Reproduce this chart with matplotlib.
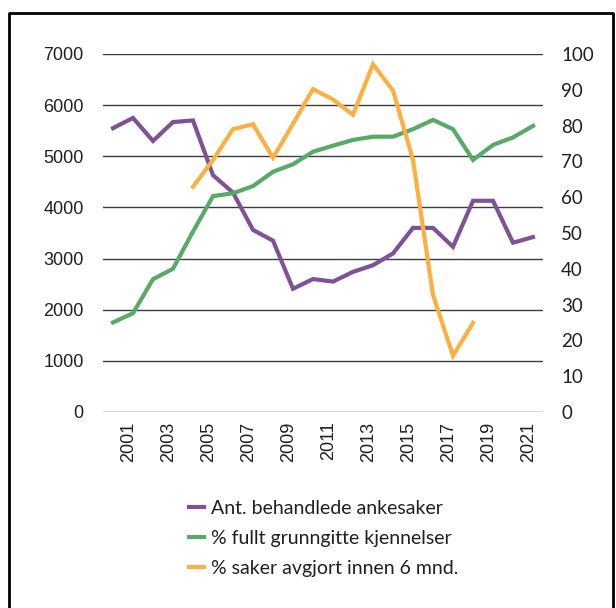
import matplotlib
matplotlib.use("Agg")
import matplotlib.pyplot as plt
import matplotlib.transforms as mtransforms
from matplotlib.lines import Line2D

# data
years = list(range(2000, 2022))
ankesaker = [5550, 5750, 5300, 5670, 5700, 4630, 4290, 3560, 3350, 2410, 2600,
             2550, 2740, 2870, 3100, 3600, 3600, 3230, 4130, 4130, 3310, 3420]
grunngitte = [25, 27.6, 37.1, 40, 50.4, 60.3, 61.1, 63.1, 67.1, 69.2, 72.7,
              74.4, 76.0, 76.9, 76.9, 79.0, 81.6, 79.0, 70.4, 74.6, 76.7, 79.9]
avgjort_years = list(range(2004, 2019))
avgjort = [62.9, 70.4, 79.0, 80.4, 71.0, 80.5, 90.2, 87.3, 83.0, 97.1, 89.8,
           70.4, 32.7, 15.7, 24.9]
labels = ["Ant. behandlede ankesaker", "% fullt grunngitte kjennelser",
          "% saker avgjort innen 6 mnd."]

PURPLE = "#7f5297"
GREEN = "#58aa67"
ORANGE = "#fbb03f"
GRID = "#3c3c3c"
TXT = "#231f20"

fig = plt.figure(figsize=(6.16, 6.08), dpi=100)
ax = fig.add_axes([103 / 616, 196 / 608, 440 / 616, 358 / 608])
ax2 = ax.twinx()

l1, = ax.plot(years, ankesaker, color=PURPLE, lw=3, solid_joinstyle="miter")
l2, = ax2.plot(years, grunngitte, color=GREEN, lw=3, solid_joinstyle="miter")
l3, = ax2.plot(avgjort_years, avgjort, color=ORANGE, lw=3, solid_joinstyle="miter")

ax.set_xlim(1999.5, 2021.5)
ax.set_ylim(0, 7000)
ax2.set_ylim(0, 100)
ax.set_yticks(range(0, 7001, 1000))
ax2.set_yticks(range(0, 101, 10))
ax.set_xticks(range(2001, 2022, 2))

for a in (ax, ax2):
    for s in a.spines.values():
        s.set_visible(False)
ax.grid(axis="y", color=GRID, lw=1)
ax.set_axisbelow(True)

ax.tick_params(axis="y", length=0, pad=14, labelsize=13, labelcolor=TXT)
ax.tick_params(axis="x", length=0, pad=7, labelsize=13, labelcolor=TXT,
               labelrotation=90)
ax2.tick_params(axis="y", length=0, pad=13, labelsize=13.5, labelcolor=TXT)
for t in ax.get_yticklabels() + ax.get_xticklabels():
    t.set_fontfamily("Liberation Sans")
for t in ax2.get_yticklabels():
    t.set_fontfamily("Lato")

shift = mtransforms.ScaledTranslation(-4 / 100, 0, fig.dpi_scale_trans)
for t in ax.get_xticklabels():
    t.set_transform(t.get_transform() + shift)

leg = fig.legend([l1, l2, l3], labels, loc="upper center",
                 bbox_to_anchor=(0.525, 1 - 482 / 608), frameon=False,
                 prop={"family": "Lato", "size": 14}, handlelength=0.8,
                 handletextpad=0.35, labelspacing=0.68)
for t in leg.get_texts():
    t.set_color(TXT)

# outer frame (left, top, right)
fx0, fy0, fx1 = 9 / 616, 1 - 13 / 608, 613 / 616
fig.add_artist(Line2D([fx0, fx0, fx1, fx1], [0, fy0, fy0, 0],
                      transform=fig.transFigure, color="black", lw=2))

fig.savefig("out.png", dpi=100)
